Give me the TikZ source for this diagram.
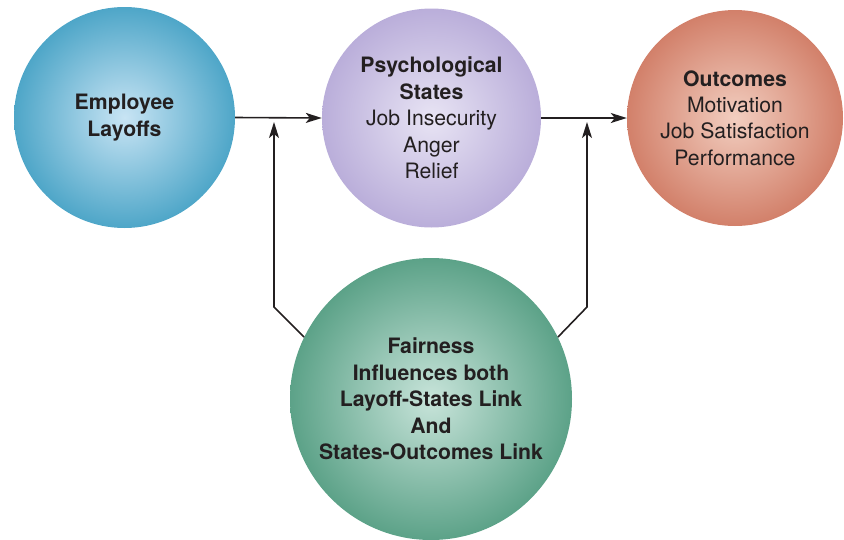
\documentclass[tikz,border=0pt]{standalone}
\usepackage{fontspec}
\setmainfont{TeX Gyre Heros}
\usetikzlibrary{arrows.meta}

\definecolor{inkdark}{RGB}{35,31,32}
\definecolor{layoffIn}{RGB}{200,228,244}
\definecolor{layoffOut}{RGB}{78,166,200}
\definecolor{statesIn}{RGB}{232,228,244}
\definecolor{statesOut}{RGB}{186,174,218}
\definecolor{outcomeIn}{RGB}{242,206,192}
\definecolor{outcomeOut}{RGB}{210,128,106}
\definecolor{fairIn}{RGB}{200,228,218}
\definecolor{fairOut}{RGB}{92,162,136}

\tikzset{
  bubble/.style={circle, inner sep=0pt, align=center, text=inkdark,
    font=\fontsize{21.2}{26.4}\selectfont},
  link/.style={line width=1.6pt, draw=inkdark,
    -{Stealth[length=16pt,width=10pt,inset=4pt]}},
}

\begin{document}
\begin{tikzpicture}[x=1pt, y=-1pt]
    \useasboundingbox (0,0) rectangle (844,539);

    % the four bubbles
    \node[bubble, minimum size=221pt, inner color=layoffIn, outer color=layoffOut]
        (layoffs) at (124.5,117.5) {\textbf{Employee}\\\textbf{Layoffs}};
    \node[bubble, minimum size=219pt, inner color=statesIn, outer color=statesOut]
        (states) at (431.5,118) {\textbf{Psychological}\\\textbf{States}\\Job Insecurity\\Anger\\Relief};
    \node[bubble, minimum size=216pt, inner color=outcomeIn, outer color=outcomeOut]
        (outcomes) at (735,118) {\textbf{Outcomes}\\Motivation\\Job Satisfaction\\Performance};
    \node[bubble, minimum size=282pt, inner color=fairIn, outer color=fairOut]
        (fair) at (431,399) {\textbf{Fairness}\\\textbf{Influences both}\\\textbf{Layoff-States Link}\\\textbf{And}\\\textbf{States-Outcomes Link}};

    % main chain
    \draw[link] (layoffs.east) -- (states.west);
    \draw[link] (states.east) -- (outcomes.west);

    % fairness moderates both links
    \coordinate (leftbend) at (274,307);
    \coordinate (lefttip) at (274,122);
    \coordinate (rightbend) at (587,307);
    \coordinate (righttip) at (587,122);
    \draw[link] (fair.154) -- (leftbend) -- (lefttip);
    \draw[link] (fair.26) -- (rightbend) -- (righttip);
\end{tikzpicture}
\end{document}
